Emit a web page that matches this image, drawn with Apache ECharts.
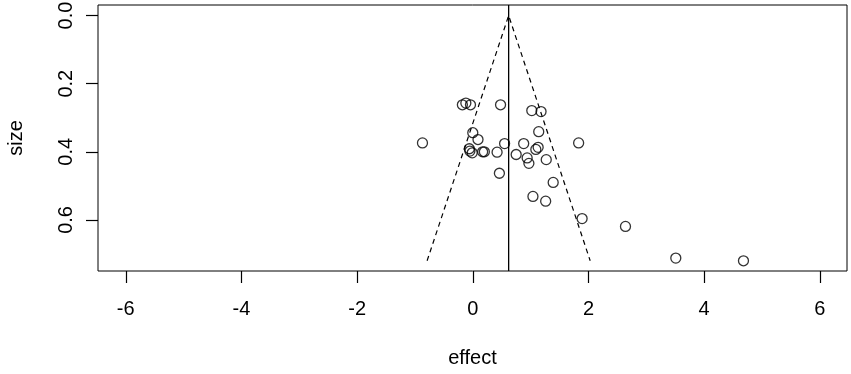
<!DOCTYPE html>
<html>
<head>
<meta charset="utf-8">
<script src="https://cdn.jsdelivr.net/npm/echarts@6/dist/echarts.min.js"></script>
<style>
  html, body { margin: 0; padding: 0; background: #fff; }
  #chart { width: 851px; height: 374px; }
</style>
</head>
<body>
<div id="chart"></div>
<script>
// study points: effect and size (standard error)
const effects = [-0.87, -0.18, -0.12, -0.04, 0.48, 1.02, 1.18, 1.14, 0.00, 0.09,
  0.55, -0.06, -0.05, -0.01, 0.17, 0.20, 0.42, 0.46, 0.75, 0.88,
  0.94, 0.97, 1.09, 1.13, 1.27, 1.39, 1.04, 1.26, 1.83, 1.89,
  2.64, 3.51, 4.68]
const sizes = [0.374, 0.262, 0.257, 0.262, 0.262, 0.279, 0.282, 0.341, 0.344, 0.364,
  0.376, 0.391, 0.398, 0.403, 0.400, 0.400, 0.401, 0.463, 0.408, 0.376,
  0.418, 0.434, 0.393, 0.387, 0.423, 0.490, 0.531, 0.545, 0.374, 0.596,
  0.619, 0.712, 0.720]

// funnel (dashed) and pooled estimate (solid)
const funnelEffect = [-0.79, 0.62, 2.03]
const funnelSize = [0.72, 0, 0.72]
const pooledEffect = 0.62

// plot ranges (R pads the data range by 4%)
const xRange = [-6.48, 6.47]
const yRange = [-0.031, 0.75]
// tick range / step
const xTickRange = [-6, 6], xStep = 2
const yTickRange = [0, 0.6], yStep = 0.2

const W = 851, H = 374
const box = { left: 98, right: 4, top: 5, bottom: 103 }
const font = 'Liberation Sans, Arial, sans-serif'

// tick axes live in their own grids, trimmed so that their min/max
// sit exactly on the tick values of the data axes
const plotW = W - box.left - box.right
const plotH = H - box.top - box.bottom
const xPix = v => box.left + (v - xRange[0]) / (xRange[1] - xRange[0]) * plotW
const yPix = v => box.top + (v - yRange[0]) / (yRange[1] - yRange[0]) * plotH

const chart = echarts.init(document.getElementById('chart'))

const hidden = (gridIndex) => ({ type: 'value', gridIndex, show: false, min: 0, max: 1 })

chart.setOption({
  animation: false,
  backgroundColor: '#fff',
  grid: [
    Object.assign({ show: true, borderColor: '#000', borderWidth: 1,
      containLabel: false, outerBoundsMode: 'none' }, box),
    { left: xPix(xTickRange[0]), right: W - xPix(xTickRange[1]), top: box.top, bottom: box.bottom,
      containLabel: false, outerBoundsMode: 'none' },
    { left: box.left, right: box.right, top: yPix(yTickRange[0]), bottom: H - yPix(yTickRange[1]),
      containLabel: false, outerBoundsMode: 'none' }
  ],
  xAxis: [{
    type: 'value',
    gridIndex: 0,
    min: xRange[0],
    max: xRange[1],
    name: 'effect',
    nameLocation: 'middle',
    nameGap: 77,
    nameTextStyle: { color: '#000', fontSize: 20, fontFamily: font },
    axisLine: { show: false, onZero: false },
    axisTick: { show: false },
    axisLabel: { show: false },
    splitLine: { show: false }
  }, {
    type: 'value',
    gridIndex: 1,
    min: xTickRange[0],
    max: xTickRange[1],
    interval: xStep,
    axisLine: { show: false, onZero: false },
    splitLine: { show: false },
    axisTick: { show: true, length: 12, lineStyle: { color: '#000', width: 1.2 } },
    axisLabel: { margin: 28, color: '#000', fontSize: 20, fontFamily: font }
  }, hidden(2)],
  yAxis: [{
    type: 'value',
    gridIndex: 0,
    inverse: true,
    min: yRange[0],
    max: yRange[1],
    name: 'size',
    nameLocation: 'middle',
    nameGap: 72,
    nameRotate: 90,
    nameTextStyle: { color: '#000', fontSize: 20, fontFamily: font },
    axisLine: { show: false, onZero: false },
    axisTick: { show: false },
    axisLabel: { show: false },
    splitLine: { show: false }
  }, hidden(1), {
    type: 'value',
    gridIndex: 2,
    inverse: true,
    min: yTickRange[0],
    max: yTickRange[1],
    interval: yStep,
    axisLine: { show: false, onZero: false },
    splitLine: { show: false },
    axisTick: { show: true, length: 12, lineStyle: { color: '#000', width: 1.2 } },
    axisLabel: {
      rotate: 90,
      margin: 22,
      color: '#000',
      fontSize: 20,
      fontFamily: font,
      formatter: v => v.toFixed(1)
    }
  }],
  series: [
    {
      name: 'funnel',
      type: 'line',
      data: funnelEffect.map((e, i) => [e, funnelSize[i]]),
      symbol: 'none',
      lineStyle: { color: '#000', width: 1.2, type: [5, 4] },
      silent: true
    },
    {
      name: 'pooled',
      type: 'line',
      data: [[pooledEffect, yRange[0]], [pooledEffect, yRange[1]]],
      symbol: 'none',
      lineStyle: { color: '#000', width: 1.3 },
      silent: true
    },
    {
      name: 'studies',
      type: 'scatter',
      data: effects.map((e, i) => [e, sizes[i]]),
      symbol: 'circle',
      symbolSize: 10,
      itemStyle: { color: 'rgba(0,0,0,0)', borderColor: '#000', borderWidth: 1.3 }
    }
  ]
})
</script>
</body>
</html>
